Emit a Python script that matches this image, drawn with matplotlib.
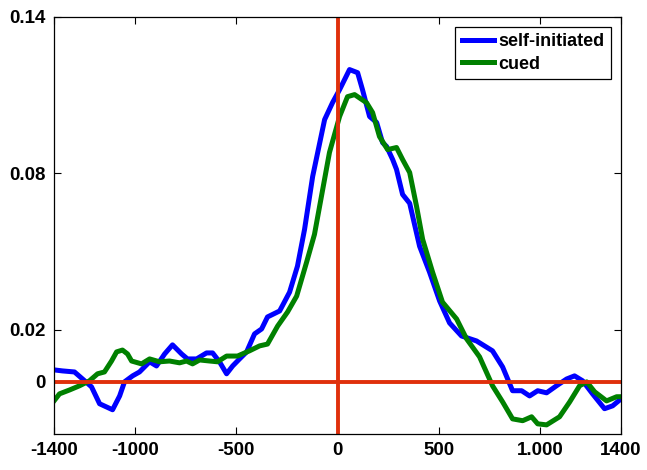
import matplotlib
matplotlib.use('Agg')
import matplotlib.pyplot as plt

plt.rcParams['font.family'] = ['Liberation Sans', 'DejaVu Sans']

# self-initiated (blue) trace
self_t = [-1400, -1358, -1299, -1259, -1215, -1175, -1111, -1076, -1052, -1012,
          -978, -928, -894, -854, -815, -770, -741, -696, -647, -617,
          -583, -548, -518, -484, -449, -410, -375, -346, -286, -237,
          -198, -163, -123, -64, -25, 10, 59, 99, 123, 158,
          193, 222, 242, 272, 291, 321, 356, 405, 454, 504,
          553, 612, 686, 765, 815, 864, 909, 948, 988, 1032,
          1081, 1131, 1170, 1210, 1259, 1318, 1358, 1400]
self_v = [0.0046, 0.0042, 0.0038, 0.0011, -0.0019, -0.0084, -0.0107, -0.0054, 0.0, 0.0023,
          0.0038, 0.0077, 0.0061, 0.0107, 0.0142, 0.0107, 0.0088, 0.0088, 0.0111, 0.0111,
          0.0077, 0.0031, 0.0061, 0.0088, 0.0115, 0.0184, 0.0203, 0.0249, 0.0272, 0.0344,
          0.0444, 0.0585, 0.0788, 0.1006, 0.1071, 0.1121, 0.1198, 0.1186, 0.1121, 0.1018,
          0.0995, 0.0918, 0.0903, 0.0853, 0.0815, 0.0719, 0.0685, 0.0520, 0.0421, 0.0310,
          0.0226, 0.0176, 0.0157, 0.0119, 0.0057, -0.0034, -0.0034, -0.0054, -0.0034, -0.0042,
          -0.0015, 0.0011, 0.0023, 0.0004, -0.0046, -0.0103, -0.0092, -0.0065]

# cued (green) trace
cued_t = [-1400, -1373, -1323, -1274, -1225, -1185, -1151, -1116, -1091, -1062,
          -1037, -1017, -968, -928, -879, -830, -780, -746, -716, -681,
          -632, -593, -548, -494, -435, -385, -346, -296, -247, -202,
          -153, -114, -40, 10, 49, 84, 143, 173, 207, 247,
          291, 321, 356, 390, 420, 469, 518, 588, 637, 701,
          765, 815, 864, 914, 958, 988, 1032, 1096, 1146, 1195,
          1230, 1269, 1328, 1378, 1400]
cued_v = [-0.0073, -0.0046, -0.0031, -0.0015, 0.0004, 0.0031, 0.0038, 0.0080, 0.0115, 0.0122,
          0.0107, 0.0080, 0.0069, 0.0088, 0.0077, 0.0080, 0.0073, 0.0080, 0.0069, 0.0084,
          0.0080, 0.0077, 0.0099, 0.0099, 0.0119, 0.0138, 0.0145, 0.0214, 0.0268, 0.0329,
          0.0459, 0.0566, 0.0880, 0.1018, 0.1094, 0.1102, 0.1071, 0.1033, 0.0941, 0.0891,
          0.0899, 0.0853, 0.0803, 0.0673, 0.0547, 0.0421, 0.0306, 0.0241, 0.0165, 0.0096,
          -0.0015, -0.0077, -0.0142, -0.0149, -0.0134, -0.0161, -0.0165, -0.0134, -0.0077, -0.0015,
          0.0, -0.0038, -0.0073, -0.0057, -0.0057]

x_ticks = [-1400, -1000, -500, 0, 500, 1000, 1400]
x_labels = ['-1400', '-1000', '-500', '0', '500', '1.000', '1400']
y_ticks = [0, 0.02, 0.08, 0.14]
y_labels = ['0', '0.02', '0.08', '0.14']

fig = plt.figure(figsize=(6.47, 4.70), dpi=100)
ax = fig.add_axes([0.0835, 0.0766, 0.8765, 0.8874])

ax.plot(self_t, self_v, color='#0000ff', lw=3.6, solid_joinstyle='round', label='self-initiated')
ax.plot(cued_t, cued_v, color='#008000', lw=3.6, solid_joinstyle='round', label='cued')

# zero reference lines
ax.axhline(0, color='#e0300c', lw=2.8)
ax.axvline(0, color='#e0300c', lw=2.8)

ax.set_xlim(-1400, 1400)
ax.set_ylim(-0.02, 0.14)
ax.set_xticks(x_ticks)
ax.set_xticklabels(x_labels)
ax.set_yticks(y_ticks)
ax.set_yticklabels(y_labels)
ax.tick_params(direction='in', length=5, width=0.8, top=True, right=True,
               labelsize=13.5, pad=6)
for lab in ax.get_xticklabels() + ax.get_yticklabels():
    lab.set_fontweight('bold')
for s in ax.spines.values():
    s.set_linewidth(0.9)

leg = ax.legend(loc='upper right', fontsize=13, handlelength=1.8, handletextpad=0.25,
                borderpad=0.35, labelspacing=0.3, borderaxespad=0.55,
                fancybox=False, framealpha=1, edgecolor='black')
leg.get_frame().set_linewidth(0.9)
for t in leg.get_texts():
    t.set_fontweight('bold')

fig.savefig('out.png', dpi=100)
